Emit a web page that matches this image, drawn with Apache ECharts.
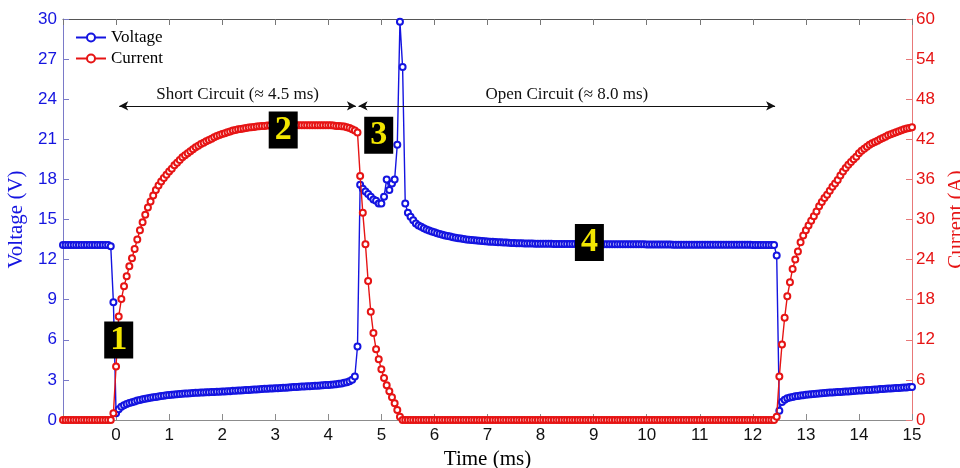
<!DOCTYPE html>
<html>
<head>
<meta charset="utf-8">
<script src="https://cdn.jsdelivr.net/npm/echarts@6/dist/echarts.min.js"></script>
<style>html,body{margin:0;padding:0;background:#fff}#c{width:960px;height:468px}</style>
</head>
<body>
<div id="c"></div>
<script>
// sampling grid of the recorded traces (ms)
const tStart = -1, tStep = 0.05;
const xTicks = [0,1,2,3,4,5,6,7,8,9,10,11,12,13,14,15];

// Voltage (V), one row per ms, samples every 0.05 ms
const voltage = [
13.1,13.1,13.1,13.1,13.1,13.1,13.1,13.1,13.1,13.1,13.1,13.1,13.1,13.1,13.1,13.1,13.1,13.1,13.0,8.8,
0.5,0.8,1.0,1.1,1.2,1.27,1.33,1.39,1.45,1.5,1.55,1.59,1.62,1.66,1.7,1.73,1.76,1.79,1.82,1.85,
1.87,1.89,1.91,1.93,1.95,1.96,1.98,1.99,2.01,2.02,2.03,2.04,2.05,2.06,2.07,2.08,2.09,2.1,2.11,2.12,
2.13,2.14,2.15,2.16,2.18,2.19,2.2,2.21,2.23,2.24,2.25,2.26,2.28,2.29,2.3,2.31,2.33,2.34,2.35,2.36,
2.37,2.38,2.4,2.41,2.42,2.43,2.45,2.46,2.47,2.48,2.5,2.51,2.52,2.53,2.55,2.56,2.57,2.58,2.6,2.61,
2.62,2.64,2.66,2.68,2.71,2.74,2.78,2.83,2.9,3.02,3.25,5.5,17.6,17.3,17.1,16.9,16.7,16.5,16.4,16.2,
16.2,16.7,18.0,17.2,17.7,18.0,20.6,29.8,26.4,16.2,15.5,15.2,14.95,14.7,14.55,14.45,14.35,14.25,14.18,14.1,
14.05,13.98,13.92,13.86,13.81,13.76,13.72,13.68,13.64,13.6,13.57,13.54,13.51,13.49,13.47,13.45,13.43,13.41,13.39,13.37,
13.36,13.34,13.33,13.31,13.3,13.29,13.28,13.27,13.26,13.25,13.24,13.23,13.23,13.22,13.21,13.21,13.2,13.2,13.19,13.19,
13.18,13.18,13.18,13.18,13.18,13.17,13.17,13.17,13.17,13.17,13.16,13.16,13.16,13.16,13.16,13.15,13.15,13.15,13.15,13.15,
13.14,13.14,13.14,13.14,13.14,13.14,13.14,13.14,13.14,13.14,13.14,13.14,13.14,13.14,13.14,13.14,13.14,13.14,13.14,13.14,
13.13,13.13,13.13,13.13,13.13,13.13,13.13,13.13,13.13,13.13,13.12,13.12,13.12,13.12,13.12,13.12,13.12,13.12,13.12,13.12,
13.12,13.12,13.12,13.12,13.12,13.12,13.12,13.12,13.12,13.12,13.11,13.11,13.11,13.11,13.11,13.11,13.11,13.11,13.11,13.11,
13.1,13.1,13.1,13.1,13.1,13.1,13.1,13.1,13.1,12.3,0.7,1.35,1.52,1.62,1.68,1.73,1.77,1.8,1.83,1.86,
1.89,1.91,1.93,1.95,1.97,1.99,2.0,2.02,2.03,2.05,2.06,2.08,2.09,2.1,2.12,2.13,2.14,2.16,2.17,2.18,
2.2,2.21,2.23,2.24,2.25,2.27,2.28,2.29,2.31,2.32,2.33,2.35,2.36,2.37,2.39,2.4,2.42,2.43,2.44,2.46,
2.47
];

// Current (A), same sampling
const current = [
0,0,0,0,0,0,0,0,0,0,0,0,0,0,0,0,0,0,0,1.0,
8.0,15.5,18.1,20.0,21.5,23.0,24.2,25.6,27.0,28.4,29.6,30.7,31.8,32.7,33.6,34.4,35.1,35.7,36.2,36.7,
37.2,37.6,38.1,38.5,38.9,39.3,39.6,39.9,40.2,40.5,40.8,41.05,41.3,41.5,41.7,41.9,42.1,42.3,42.5,42.65,
42.8,42.9,43.05,43.15,43.3,43.4,43.5,43.55,43.6,43.7,43.75,43.8,43.85,43.9,43.95,44.0,44.0,44.05,44.05,44.1,
44.1,44.1,44.1,44.1,44.1,44.1,44.1,44.1,44.1,44.1,44.1,44.1,44.1,44.1,44.1,44.1,44.1,44.1,44.1,44.1,
44.1,44.1,44.05,44.0,44.0,43.95,43.9,43.8,43.7,43.5,43.3,43.0,36.5,31.0,26.3,20.8,16.2,13.0,10.6,9.1,
7.6,6.3,5.2,4.3,3.4,2.5,1.5,0.5,0,0,0,0,0,0,0,0,0,0,0,0,
0,0,0,0,0,0,0,0,0,0,0,0,0,0,0,0,0,0,0,0,
0,0,0,0,0,0,0,0,0,0,0,0,0,0,0,0,0,0,0,0,
0,0,0,0,0,0,0,0,0,0,0,0,0,0,0,0,0,0,0,0,
0,0,0,0,0,0,0,0,0,0,0,0,0,0,0,0,0,0,0,0,
0,0,0,0,0,0,0,0,0,0,0,0,0,0,0,0,0,0,0,0,
0,0,0,0,0,0,0,0,0,0,0,0,0,0,0,0,0,0,0,0,
0,0,0,0,0,0,0,0,0,0.5,6.5,11.3,15.3,18.5,20.6,22.6,24.0,25.2,26.6,27.6,
28.4,29.1,29.8,30.5,31.2,32.0,32.6,33.2,33.7,34.3,34.9,35.4,35.9,36.6,37.2,37.7,38.2,38.6,39.0,39.4,
39.9,40.3,40.6,40.9,41.2,41.4,41.6,41.8,42.0,42.2,42.4,42.6,42.75,42.9,43.05,43.2,43.35,43.5,43.6,43.7,
43.8
];

// annotations (data coordinates: ms, V)
const phaseLabels = ['1','2','3','4'];
const phaseT = [0.05, 3.15, 4.95, 8.92];
const phaseV = [5.98, 21.7, 21.3, 13.28];
const spans = [
  {text:'Short Circuit (\u2248 4.5 ms)', from:0.06, to:4.52},
  {text:'Open Circuit (\u2248 8.0 ms)', from:4.57, to:12.42}
];
const spanV = 23.5;

const BLUE = '#1414e0', RED = '#e61414';
const SERIF = '"Liberation Serif","DejaVu Serif",serif';
const SANS = '"Liberation Sans",Arial,sans-serif';

const vData = voltage.map((v,i)=>[+(tStart+i*tStep).toFixed(2), v]);
const cData = current.map((v,i)=>[+(tStart+i*tStep).toFixed(2), v]);

const chart = echarts.init(document.getElementById('c'), null, {renderer:'canvas'});
chart.setOption({
  animation:false,
  backgroundColor:'#fff',
  grid:{left:63,right:48,top:19,bottom:48,containLabel:false,outerBoundsMode:'none'},
  legend:{
    show:true, orient:'vertical', left:70, top:24, itemGap:4,
    itemWidth:30, itemHeight:10,
    textStyle:{fontFamily:SERIF,fontSize:17,color:'#000'},
    data:['Voltage','Current']
  },
  xAxis:[{
    type:'value', min:-1, max:15, interval:1, position:'bottom',
    name:'Time (ms)', nameLocation:'middle', nameGap:25,
    nameTextStyle:{fontFamily:SERIF,fontSize:21,color:'#000'},
    axisLine:{show:true,onZero:false,lineStyle:{color:'#8c8c8c',width:1}},
    axisTick:{show:true,inside:true,length:6,lineStyle:{color:'#8c8c8c'}},
    axisLabel:{fontFamily:SANS,fontSize:17,color:'#111',margin:7,
      formatter:v=> xTicks.indexOf(v)>=0 ? String(v) : ''},
    splitLine:{show:false}
  },{
    type:'value', min:-1, max:15, interval:1, position:'top',
    axisLine:{show:true,onZero:false,lineStyle:{color:'#555',width:1}},
    axisTick:{show:true,inside:true,length:6,lineStyle:{color:'#777'}},
    axisLabel:{show:false}, splitLine:{show:false}
  }],
  yAxis:[{
    type:'value', min:0, max:30, interval:3, position:'left',
    name:'Voltage (V)', nameLocation:'middle', nameGap:36, nameRotate:90,
    nameTextStyle:{fontFamily:SERIF,fontSize:21,color:BLUE},
    axisLine:{show:true,onZero:false,lineStyle:{color:'#7a7ac8',width:1}},
    axisTick:{show:true,inside:true,length:6,lineStyle:{color:'#7a7ac8'}},
    axisLabel:{fontFamily:SANS,fontSize:17,color:BLUE,margin:6},
    splitLine:{show:false}
  },{
    type:'value', min:0, max:60, interval:6, position:'right',
    name:'Current (A)', nameLocation:'middle', nameGap:30, nameRotate:90,
    nameTextStyle:{fontFamily:SERIF,fontSize:21,color:RED},
    axisLine:{show:true,onZero:false,lineStyle:{color:'#e87878',width:1}},
    axisTick:{show:true,inside:true,length:6,lineStyle:{color:'#e87878'}},
    axisLabel:{fontFamily:SANS,fontSize:17,color:RED,margin:4},
    splitLine:{show:false}
  }],
  series:[{
    name:'Voltage', type:'line', xAxisIndex:0, yAxisIndex:0, data:vData,
    symbol:'emptyCircle', symbolSize:6, showAllSymbol:true,
    lineStyle:{color:BLUE,width:1.4}, itemStyle:{color:BLUE,borderColor:BLUE,borderWidth:1.2},
    emphasis:{disabled:true},
    markLine:{
      silent:true, symbol:['arrow','arrow'], symbolSize:[7,9], precision:4,
      lineStyle:{color:'#111',width:1,type:'solid'},
      label:{show:true,position:'middle',fontFamily:SERIF,fontSize:17,color:'#111',distance:3},
      data: spans.map(s=>[{coord:[s.from,spanV],name:s.text},{coord:[s.to,spanV]}])
    },
    markPoint:{
      silent:true, symbol:'rect', symbolSize:[29,37],
      itemStyle:{color:'#000'},
      label:{show:true,position:'inside',fontFamily:SERIF,fontWeight:'bold',fontSize:34,color:'#f2e600',formatter:'{b}'},
      data: phaseLabels.map((l,i)=>({name:l,coord:[phaseT[i],phaseV[i]]}))
    },
    z:2
  },{
    name:'Current', type:'line', xAxisIndex:0, yAxisIndex:1, data:cData,
    symbol:'emptyCircle', symbolSize:6, showAllSymbol:true,
    lineStyle:{color:RED,width:1.4}, itemStyle:{color:RED,borderColor:RED,borderWidth:1.2},
    emphasis:{disabled:true},
    z:3
  }]
});
</script>
</body>
</html>
